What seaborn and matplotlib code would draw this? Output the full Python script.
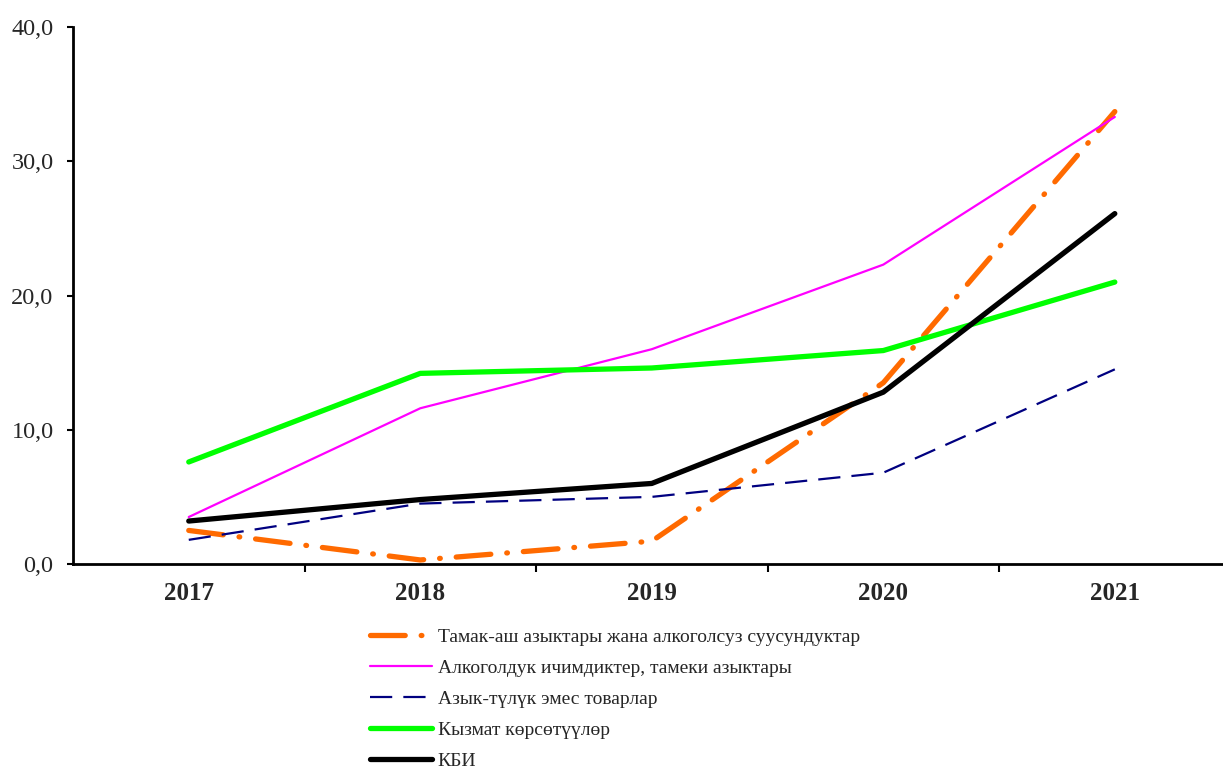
import matplotlib
matplotlib.use("Agg")
import matplotlib.pyplot as plt
import seaborn as sns
import pandas as pd
from matplotlib.ticker import FixedLocator, FuncFormatter

years = ["2017", "2018", "2019", "2020", "2021"]
food = [2.5, 0.3, 1.7, 13.5, 33.7]
alcohol = [3.5, 11.6, 16.0, 22.3, 33.3]
nonfood = [1.8, 4.5, 5.0, 6.8, 14.5]
services = [7.6, 14.2, 14.6, 15.9, 21.0]
cpi = [3.2, 4.8, 6.0, 12.8, 26.1]

labels = [
    "Тамак-аш азыктары жана алкоголсуз суусундуктар",
    "Алкоголдук ичимдиктер, тамеки азыктары",
    "Азык-түлүк эмес товарлар",
    "Кызмат көрсөтүүлөр",
    "КБИ",
]

sns.set_theme(style="white")
plt.rcParams['font.family'] = ['Liberation Serif', 'DejaVu Serif']
plt.rcParams['lines.scale_dashes'] = False

fig = plt.figure(figsize=(12.23, 7.69), dpi=100)
W, H = 1223, 769
ax = fig.add_axes([73 / W, 1 - 564 / H, (1222 - 73) / W, (564 - 27) / H])

styles = [
    dict(color="#FF6A00", lw=3.8, dashes=(0, (25, 11.5, 0.5, 11.5)), dash_capstyle="round"),
    dict(color="#FF00FF", lw=1.6),
    dict(color="#000080", lw=1.6, dashes=(0, (16, 8))),
    dict(color="#00FF00", lw=3.8, solid_capstyle="round"),
    dict(color="#000000", lw=3.8, solid_capstyle="round"),
]
series = [food, alcohol, nonfood, services, cpi]

handles = []
for vals, lab, st in zip(series, labels, styles):
    df = pd.DataFrame({"year": years, "value": vals})
    st = dict(st)
    ls = st.pop("dashes", "-")
    lw = st.pop("lw")
    sns.lineplot(data=df, x="year", y="value", ax=ax, color=st.pop("color"),
                 linewidth=lw, linestyle=ls, label=lab, sort=False, **st)
    handles.append(ax.lines[-1])

ax.set_xlim(-0.5, 4.463)
ax.set_ylim(0, 40)
ax.set_yticks([0, 10, 20, 30, 40])
ax.yaxis.set_major_formatter(FuncFormatter(lambda v, p: f"{v:.1f}".replace(".", ",")))
ax.xaxis.set_minor_locator(FixedLocator([0.5, 1.5, 2.5, 3.5]))
ax.tick_params(axis="x", which="major", length=0, pad=13, labelsize=18)
ax.tick_params(axis="x", which="minor", length=6, width=1.5, direction="out", color="black", bottom=True)
ax.tick_params(axis="y", which="major", length=4, width=1.5, direction="out", color="black", left=True, labelsize=17.5, pad=10)
for t in ax.get_xticklabels():
    t.set_fontweight("bold")
ax.set_xlabel("")
ax.set_ylabel("")
for s in ["top", "right"]:
    ax.spines[s].set_visible(False)
for s in ["left", "bottom"]:
    ax.spines[s].set_color("black")
    ax.spines[s].set_linewidth(2)

leg = ax.legend(handles, labels, loc="upper left",
                bbox_to_anchor=(370 / W, 1 - 628 / H), bbox_transform=fig.transFigure,
                frameon=False, fontsize=14, handlelength=3.19, handletextpad=0.3,
                labelspacing=0.69, borderpad=0, borderaxespad=0)

fig.savefig("out.png", dpi=100, facecolor="white")
